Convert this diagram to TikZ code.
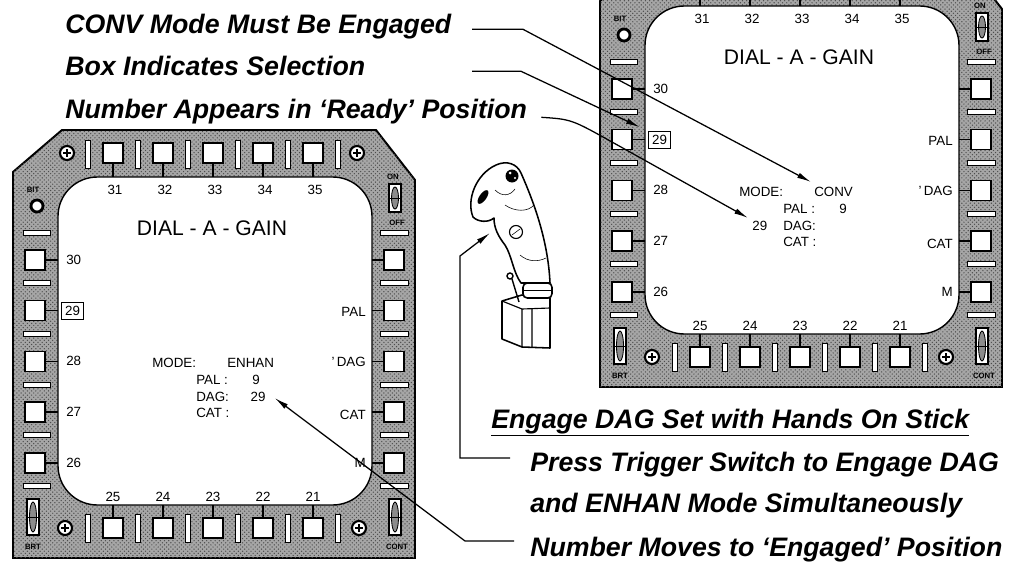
\documentclass[tikz,border=0pt]{standalone}
\usepackage{fontspec}
\setmainfont{Liberation Sans}
\usetikzlibrary{arrows.meta,patterns,positioning}

\tikzset{
  bezel/.style={draw=black,line width=1.4pt,fill=black!35,postaction={pattern=crosshatch dots,pattern color=black!70}},
  screen/.style={draw=black,line width=1pt,fill=white,rounded corners=28},
  btn/.style={draw=black,line width=1pt,fill=white},
  slot/.style={draw=black,line width=0.6pt,fill=white},
  lbl/.style={font=\fontsize{9.5}{11}\selectfont,inner sep=0pt},
  tiny/.style={font=\fontsize{5.5}{6}\selectfont\bfseries,inner sep=0pt},
  note/.style={font=\fontsize{19}{23}\selectfont\bfseries\itshape,inner sep=0pt,anchor=base west},
  lead/.style={line width=0.9pt,->},
  stick/.style={draw=black,line width=1.1pt,fill=white,line join=round}
}

\newcommand{\mfd}[4]{%
\begin{scope}[shift={(#1,#2)}]
\filldraw[bezel] (13,172) -- (62,130) -- (376,130) -- (415,180) -- (415,558) -- (13,558) -- cycle;
\filldraw[screen] (58,177) rectangle (372,505);
\foreach \i in {0,...,4}{
  \draw[btn] (103+50*\i,143) rectangle ++(20,20);
  \draw[btn] (103+50*\i,518) rectangle ++(20,20);
  \draw[line width=1pt] (113+50*\i,163) -- ++(0,14) (113+50*\i,505) -- ++(0,13);
  \draw[btn] (25,250+50.7*\i) rectangle ++(20,20);
  \draw[btn] (384,250+50.7*\i) rectangle ++(20,20);
  \draw[line width=1pt] (45,260+50.7*\i) -- (58,260+50.7*\i) (372,260+50.7*\i) -- (384,260+50.7*\i);
}
\foreach \i in {0,...,5}{
  \draw[slot] (85+50*\i,140) rectangle ++(5,28);
  \draw[slot] (85+50*\i,514) rectangle ++(5,28);
  \draw[slot] (23,230+50.7*\i) rectangle ++(27,5);
  \draw[slot] (380,230+50.7*\i) rectangle ++(28,5);
}
\foreach \p in {(67,153),(357,153),(65,528),(359,528)}{
  \filldraw[fill=white,line width=1.5pt] \p circle (7);
  \draw[line width=1.2pt] \p ++(-4,0) -- ++(8,0) \p ++(0,-4) -- ++(0,8);
}
\foreach \p/\h in {(33,517)/18,(395,517)/18,(395,198)/14}{
  \filldraw[fill=white,line width=1pt] \p +(-6,-\h) rectangle +(6,\h);
  \filldraw[fill=black!45,line width=0.6pt] \p ellipse (3.5 and \h-3);
  \draw[line width=0.6pt] \p +(-5,0) -- +(5,0);
}
\filldraw[fill=white,line width=2pt] (37,206) circle (6);
\node[tiny] at (33,190) {BIT};
\node[tiny] at (393,177) {ON};
\node[tiny] at (397,223) {OFF};
\node[tiny] at (33,547) {BRT};
\node[tiny] at (397,547) {CONT};
\node[lbl,font=\fontsize{15}{17}\selectfont] (#3title) at (212,228) {DIAL - A - GAIN};
\foreach \n [count=\i from 0] in {31,...,35} \node[lbl] at (115+50*\i,190) {\n};
\foreach \n [count=\i from 0] in {25,24,23,22,21} \node[lbl] at (113+50*\i,497) {\n};
\node[lbl,anchor=west] at (66,260) {30};
\node[lbl,draw,line width=0.8pt,inner sep=2.5pt,anchor=west] (#3box) at (61,311) {29};
\node[lbl,anchor=west] at (66,361) {28};
\node[lbl,anchor=west] at (66,412) {27};
\node[lbl,anchor=west] at (66,463) {26};
\node[lbl,anchor=east] at (366,312) {PAL};
\node[lbl,anchor=east] at (366,362) {'\,DAG};
\node[lbl,anchor=east] at (366,415) {CAT};
\node[lbl,anchor=east] at (366,463) {M};
\node[lbl,anchor=west] (#3modelbl) at (152,363) {MODE:};
\node[lbl,anchor=west] (#3mode) at (227,363) {#4};
\node[lbl,anchor=west] (#3pal) at (196,380) {PAL :};
\node[lbl,anchor=west] at (252,380) {9};
\node[lbl,anchor=west] (#3dag) at (196,397) {DAG:};
\node[lbl,anchor=west] (#3cat) at (196,413) {CAT :};
\end{scope}}

\begin{document}
\begin{tikzpicture}[x=0.025cm,y=-0.025cm,>={Latex[length=10pt,width=4pt]}]
\useasboundingbox (0,0) rectangle (1020,566);
\begin{scope}
\clip (0,0) rectangle (1020,566);
\mfd{0}{0}{l}{ENHAN}
\mfd{587}{-171}{r}{CONV}
\end{scope}
\node[lbl,right=15pt of ldag] (leng) {29};
\node[lbl,left=11pt of rdag] (rready) {29};

\filldraw[stick] (502,301) -- (522,295) -- (550,298) -- (550,348) -- (522,347) -- (502,339) -- cycle;
\draw[line width=0.8pt] (502,301) -- (522,309) -- (550,308) (522,309) -- (522,347) (532,309) -- (532,347);
\filldraw[stick,rounded corners=3] (523,283) rectangle (552,298);
\draw (523,290) -- (552,290);
\filldraw[stick] (473,217) .. controls (466,200) and (476,174) .. (496,165) .. controls (507,160) and (517,164) .. (521,173) .. controls (532,198) and (548,238) .. (550,283) -- (521,283) .. controls (513,272) and (512,256) .. (505,245) .. controls (498,236) and (494,228) .. (494,218) .. controls (488,223) and (478,222) .. (473,217) -- cycle;
\fill (512,176) circle (6.5);
\fill[white] (510,173) circle (1.5) (515,178) circle (1.2);
\fill[rotate around={-35:(483,197)}] (483,197) ellipse (3.5 and 8);
\draw[thick] (516,232) circle (6.5);
\draw (512,235) -- (520,229);
\draw (495,190) .. controls (502,197) and (510,196) .. (515,189);
\draw (505,205) .. controls (515,212) and (528,212) .. (534,205);
\draw (520,255) .. controls (528,262) and (538,262) .. (546,258);
\draw[line width=1pt] (512,279) -- (519,302);
\filldraw[fill=white,line width=1pt] (510,276) circle (3);

\node[note] (lconv) at (65,33) {CONV Mode Must Be Engaged};
\node[note] (lsel) at (65,75) {Box Indicates Selection};
\node[note] (lready) at (65,118) {Number Appears in `Ready' Position};
\node[note] (lhotas) at (491,428) {\underline{Engage DAG Set with Hands On Stick}};
\node[note] (lpress) at (530,471) {Press Trigger Switch to Engage DAG};
\node[note] (lenhan) at (530,512) {and ENHAN Mode Simultaneously};
\node[note] (lmoves) at (530,556) {Number Moves to `Engaged' Position};

\coordinate (lx) at (472,0);
\coordinate (rbend) at (612,142);
\coordinate (pbend) at (460,458);
\coordinate (jbend) at (460,256);
\coordinate (trig) at (490,233);
\coordinate (mbend) at (465,541);
\draw[lead] (lx |- lconv.mid east) -- ++(51,0) -- ([shift={(-3,-5)}]rmode.north west);
\draw[lead] (lx |- lsel.mid east) -- ++(49,0) -- ([shift={(-8,-4)}]rbox.north west);
\draw[lead] ([shift={(14,3)}]lready.mid east) .. controls +(30,2) .. (rbend) -- ([shift={(-4,-3)}]rready.north west);
\draw[lead] (pbend -| lpress.west) ++(-20,0) -- (pbend) -- (jbend) -- (trig);
\draw[lead] (mbend -| lmoves.west) ++(-16,0) -- (mbend) -- ([shift={(9,1)}]leng.east);
\end{tikzpicture}
\end{document}
